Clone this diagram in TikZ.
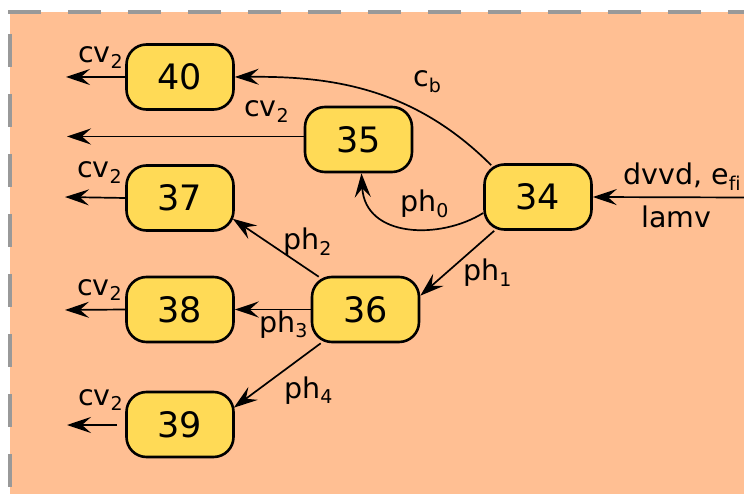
\documentclass[tikz,border=0pt]{standalone}
\usepackage{fontspec}
\setmainfont{DejaVu Sans}
\usetikzlibrary{arrows.meta,calc}
\definecolor{peach}{HTML}{FFBF93}
\definecolor{nodey}{HTML}{FFDA56}
\definecolor{dashgray}{HTML}{999999}
\pgfdeclarelayer{bglayer}
\pgfdeclarelayer{edgelayer}
\pgfsetlayers{bglayer,edgelayer,main}
\newcommand\sbs[1]{\raisebox{-5.5pt}{\fontsize{19}{19}\selectfont #1}}
\begin{document}
\begin{tikzpicture}[x=1pt,y=-1pt,
  state/.style={draw=black, line width=2.6pt, fill=nodey, rounded corners=20pt,
    minimum width=107pt, minimum height=65pt, inner sep=0pt,
    font=\fontsize{35}{35}\selectfont},
  lbl/.style={anchor=base west, inner sep=0pt, font=\fontsize{28.5}{28.5}\selectfont},
  arr/.style={draw=black, line width=1.7pt, -{Stealth[length=24pt,width=16pt,inset=9pt]}},
  ]
\useasboundingbox (0,0) rectangle (744,494);
\begin{pgfonlayer}{bglayer}
  \fill[peach] (10,12) rectangle (744,494);
  \draw[dashgray, line width=3.5pt, dash pattern=on 33pt off 27pt] (8,12) -- (744,12);
  \draw[dashgray, line width=3.5pt, dash pattern=on 33pt off 27pt] (10,34) -- (10,494);
\end{pgfonlayer}

\node[state] (n40) at (180,77) {40};
\node[state] (n35) at (358.5,139.5) {35};
\node[state] (n34) at (538,197) {34};
\node[state] (n37) at (180,198) {37};
\node[state] (n36) at (365.5,309.5) {36};
\node[state] (n38) at (180,309.5) {38};
\node[state] (n39) at (180,424.5) {39};

\coordinate (e40) at (66,77);
\coordinate (e35) at (67,136.5);
\coordinate (e37) at (65,197);
\coordinate (e38) at (65,310);
\coordinate (e39) at (67,425);
\coordinate (in34) at (746,197.5);

\begin{pgfonlayer}{edgelayer}
  \draw[arr] (n40.west) -- (e40);
  \draw[arr] ($(n35.west)+(0,-3)$) -- (e35);
  \draw[arr] (n37.west) -- (e37);
  \draw[arr] (n38.west) -- (e38);
  \draw[arr] ($(n39.west)+(-8,0.5)$) -- (e39);
  \draw[arr] (in34) -- (n34.east);
  \draw[arr] ($(n34.north west)+(8,2)$) .. controls (413,87) and (330,76) .. (n40.east);
  \draw[arr] ($(n34.west)+(0,16)$) .. controls (440,240) and (365,238) .. (n35.-85);
  \draw[arr] ($(n34.south west)+(11,0)$) -- ($(n36.north east)+(0,20)$);
  \draw[arr] ($(n36.north west)+(8,1)$) -- ($(n37.south east)+(-2,-13)$);
  \draw[arr] (n36.west) -- (n38.east);
  \draw[arr] ($(n36.south west)+(10,0)$) -- ($(n39.north east)+(-1,17)$);
\end{pgfonlayer}

\node[lbl] (lcv40) at (78,63) {cv\sbs{2}};
\node[lbl] (lcv35) at (244,117) {cv\sbs{2}};
\node[lbl] (lcv37) at (77,178) {cv\sbs{2}};
\node[lbl] (lcv38) at (77,295) {cv\sbs{2}};
\node[lbl] (lcv39) at (78,405) {cv\sbs{2}};
\node[lbl] (lcb) at (413,87) {c\sbs{b}};
\node[lbl] (lph0) at (400,212) {ph\sbs{0}};
\node[lbl] (lph1) at (463,281) {ph\sbs{1}};
\node[lbl] (lph2) at (283,250) {ph\sbs{2}};
\node[lbl] (lph3) at (259,332) {ph\sbs{3}};
\node[lbl] (lph4) at (284,398) {ph\sbs{4}};
\node[lbl] (ldv) at (623,185) {dvvd, e\sbs{f\kern0pt i}};
\node[lbl] (llam) at (641,228) {lamv};
\end{tikzpicture}
\end{document}
